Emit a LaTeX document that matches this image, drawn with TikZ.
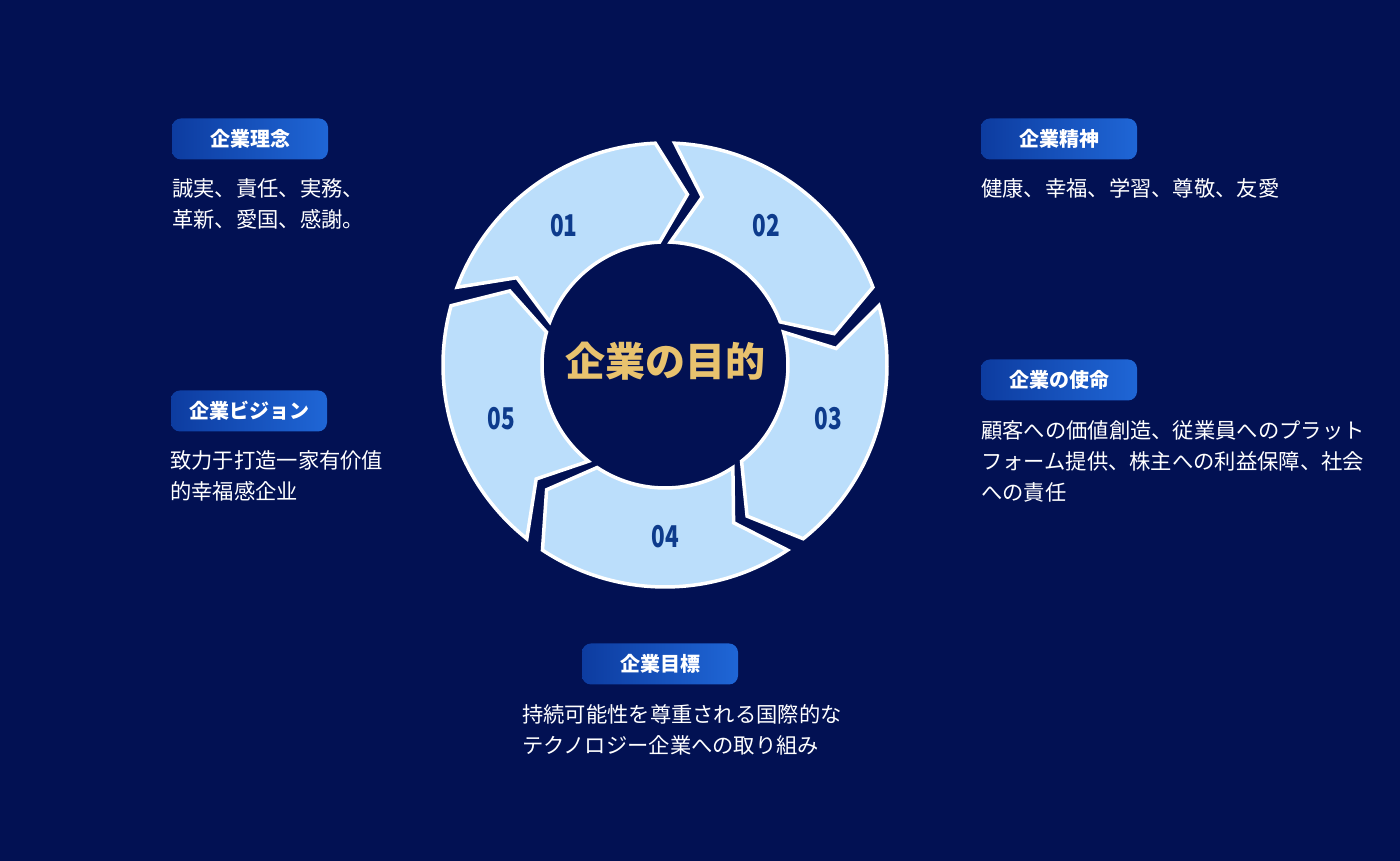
\documentclass[tikz,border=0pt]{standalone}
\usepackage{fontspec}
\setmainfont{Noto Sans CJK JP}
\usetikzlibrary{positioning}

\definecolor{navy}{RGB}{2,17,83}
\definecolor{ringblue}{RGB}{187,222,251}
\definecolor{numblue}{RGB}{13,59,140}
\definecolor{gold}{RGB}{232,194,110}
\definecolor{pillleft}{RGB}{13,60,160}
\definecolor{pillright}{RGB}{31,102,214}

\tikzset{
  pill/.style={rounded corners=9pt, left color=pillleft, right color=pillright,
    text=white, font=\fontsize{20}{22}\selectfont\bfseries,
    minimum width=156pt, minimum height=41pt, inner sep=0pt},
  body/.style={text=white, font=\fontsize{21.3}{31}\selectfont,
    align=left, anchor=north west, inner sep=0pt},
  segment/.style={fill=ringblue, draw=white, line width=3.5pt, line join=miter},
  num/.style={text=numblue, font=\fontsize{30}{32}\selectfont\bfseries, xscale=0.75}
}

\begin{document}
\begin{tikzpicture}[x=1pt,y=1pt]
	\fill[navy] (0,0) rectangle (1400,861);
	\useasboundingbox (0,0) rectangle (1400,861);

	% ring of five arrows
	\begin{scope}[shift={(665,496)}]
	\foreach \k/\lab in {0/01,1/02,2/03,3/04,4/05}{
		\pgfmathsetmacro\S{162-72*\k-2.5}
		\pgfmathsetmacro\E{90-72*\k+2.5}
		\draw[segment] (\S:222) arc[start angle=\S, end angle=\E, radius=222]
			-- (\E-10:172) -- (\E:123)
			arc[start angle=\E, end angle=\S, radius=123]
			-- (\S-10:172) -- cycle;
		\node[num] (n\lab) at (126-72*\k:172) {\lab};
	}
	\node[text=gold, font=\fontsize{40}{42}\selectfont\bfseries] (goal) at (0,4) {企業の目的};
	\end{scope}

	% badges
	\node[pill] (rinen)   at (250,722) {企業理念};
	\node[pill] (seishin) at (1059,722) {企業精神};
	\node[pill] (shimei)  at (1059,481) {企業の使命};
	\node[pill] (vision)  at (249,450) {企業ビジョン};
	\node[pill] (mokuhyo) at (660,197) {企業目標};

	% texts
	\node[body] (trinen)   at (172,683) {誠実、責任、実務、\\革新、愛国、感謝。};
	\node[body] (tseishin) at (981,683) {健康、幸福、学習、尊敬、友愛};
	\node[body] (tshimei)  at (981,441) {顧客への価値創造、従業員へのプラット\\フォーム提供、株主への利益保障、社会\\への責任};
	\node[body] (tvision)  at (170,411) {致力于打造一家有价值\\的幸福感企业};
	\node[body] (tmokuhyo) at (522,157) {持続可能性を尊重される国際的な\\テクノロジー企業への取り組み};
\end{tikzpicture}
\end{document}
